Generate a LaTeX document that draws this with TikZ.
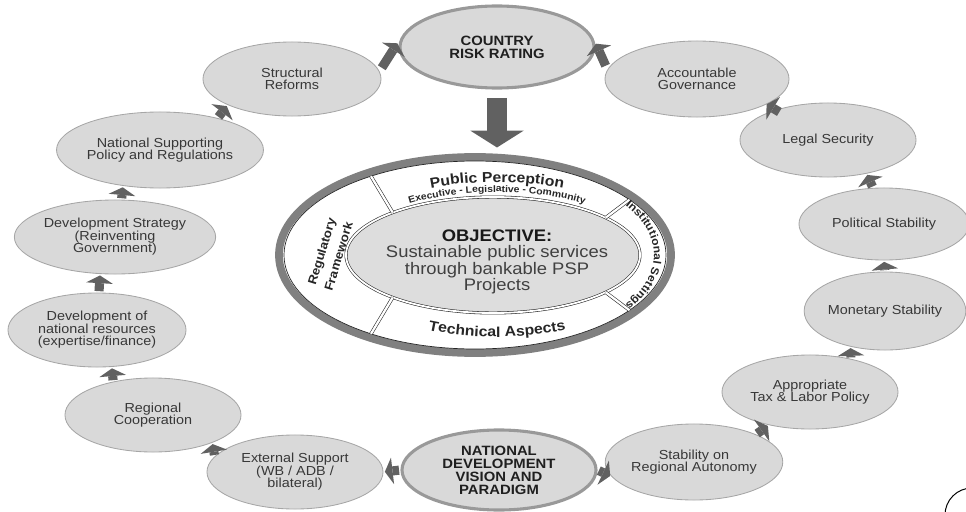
\documentclass[tikz,border=0pt]{standalone}
\usepackage{fontspec}
\setmainfont{Liberation Sans}[FakeStretch=1.1]
\usetikzlibrary{shapes.geometric,arrows.meta,positioning,decorations.text}

% fonts for the labels in the white band
\newcommand{\bandbig}{\color{black!85}\bfseries\fontsize{10.2}{12}\selectfont}
\newcommand{\bandsmall}{\color{black!85}\bfseries\fontsize{6.7}{7}\selectfont}
\newcommand{\bandside}{\color{black!85}\bfseries\fontsize{8.6}{12.5}\selectfont}
\newcommand{\bandright}{\color{black!85}\bfseries\fontsize{7.8}{9}\selectfont}

\tikzset{
  stage/.style={ellipse, draw=gray!70, fill=gray!30, line width=0.6pt, inner sep=0pt,
    minimum width=4.4cm, minimum height=1.85cm, align=center, text=black!78,
    font=\fontsize{9.3}{8.9}\selectfont},
  keystage/.style={stage, draw=gray!80, line width=2.2pt, minimum width=4.85cm,
    minimum height=2.05cm, text=black!88, font=\bfseries\fontsize{9.6}{9.3}\selectfont},
  core/.style={ellipse, draw=black!50, line width=5.5pt, fill=white, inner sep=0pt,
    minimum width=9.8cm, minimum height=4.9cm},
  rim/.style={draw=black!85, line width=0.5pt},
  hub/.style={draw=black!85, line width=0.4pt, double=white, double distance=1.3pt, fill=gray!27},
  seam/.style={draw=black!85, line width=0.4pt, double=white, double distance=1.6pt},
  flow/.style={draw=black!62, line width=6.5pt,
    -{Triangle[length=5.5pt, width=19pt, line width=0pt]}, shorten <=1pt, shorten >=1pt},
  bigflow/.style={draw=black!62, line width=14pt,
    -{Triangle[length=12pt, width=38pt, line width=0pt]}}
}

\begin{document}
\begin{tikzpicture}[x=0.025cm, y=-0.025cm]
\useasboundingbox (0,0) rectangle (966,512);

% the two key ellipses
\node[keystage] (rating) at (497,47) {COUNTRY\\RISK RATING};
\node[keystage, minimum height=2cm] (vision) at (499,470) {NATIONAL\\DEVELOPMENT\\VISION AND\\PARADIGM};

% right half of the cycle
\node[stage, minimum width=4.6cm, minimum height=1.9cm] (accgov) at (697,79) {Accountable\\Governance};
\node[stage] (legal) at (828,140) {Legal Security};
\node[stage, minimum width=4.25cm, minimum height=1.8cm] (political) at (884,224) {Political Stability};
\node[stage, minimum width=3.9cm, minimum height=1.95cm] (monetary) at (885,311) {Monetary Stability};
\node[stage] (taxlabor) at (810,392) {Appropriate\\Tax \& Labor Policy};
\node[stage, minimum width=4.3cm, minimum height=1.9cm] (autonomy) at (694,462) {Stability on\\Regional Autonomy};

% left half of the cycle
\node[stage] (external) at (295,472) {External Support\\(WB / ADB /\\bilateral)};
\node[stage] (regional) at (153,415) {Regional\\Cooperation};
\node[stage, minimum width=4.45cm] (resources) at (97,330) {Development of\\national resources\\(expertise/finance)};
\node[stage, minimum width=4.45cm] (strategy) at (115,237) {Development Strategy\\(Reinventing\\Government)};
\node[stage, minimum height=1.9cm] (supporting) at (160,150) {National Supporting\\Policy and Regulations};
\node[stage, minimum width=4.45cm] (reforms) at (292,79) {Structural\\Reforms};

% centre: objective with its four fields
\node[core] (core) at (475,255) {};
\begin{scope}[shift={(core.center)}, yscale=-1]
  \draw[rim] (0,0) ellipse [x radius=191, y radius=94];
  \draw[hub] (18,0) ellipse [x radius=147, y radius=58];
  \foreach \a/\b in {133/123, 40/36, -40/-36, 227/237}
    \draw[seam] ({18+147*cos(\a)},{58*sin(\a)}) -- ({191*cos(\b)},{94*sin(\b)});
  \path[decorate, decoration={text along path, text align=center,
      text={|\bandbig|Public Perception}}]
    (22,0) ++(125:165 and 73) arc [start angle=125, end angle=55, x radius=165, y radius=73];
  \path[decorate, decoration={text along path, text align=center,
      text={|\bandsmall|Executive - Legislative - Community}}]
    (22,0) ++(145:150 and 63) arc [start angle=145, end angle=35, x radius=150, y radius=63];
  \path[decorate, decoration={text along path, text align=center,
      text={|\bandbig|Technical Aspects}}]
    (22,0) ++(235:170 and 82) arc [start angle=235, end angle=305, x radius=170, y radius=82];
  \path[decorate, decoration={text along path, text align=center,
      text={|\bandright|Institutional Settings}}]
    (0,0) ++(40:179 and 92) arc [start angle=40, end angle=-40, x radius=179, y radius=92];
\end{scope}
\node[rotate=73, align=center, font=\bandside] (regulatory) at (330,254) {Regulatory\\Framework};
\node[align=center, text=black!75, font=\fontsize{11.9}{11.7}\selectfont] (objective) at (497,262)
  {{\color{black!90}\bfseries OBJECTIVE:}\\Sustainable public services\\through bankable PSP\\Projects};

% arrows round the cycle
\draw[bigflow, shorten <=6pt, shorten >=4pt] (rating.south) -- (rating.south |- core.north);
\draw[flow] (vision.west) -- (external.east);
\draw[flow] (external.169) -- (regional.-25);
\draw[flow] (regional.140) -- (resources.-68);
\draw[flow] (resources.87) -- (strategy.-112);
\draw[flow] (strategy.80) -- (supporting.-136);
\draw[flow] (supporting.29) -- (reforms.202);
\draw[flow, shorten <=3pt, shorten >=4pt] (reforms.5) -- (rating.175);
\draw[flow] (vision.east) -- (autonomy.190);
\draw[flow] (autonomy.24) -- (taxlabor.219);
\draw[flow] (taxlabor.39) -- (monetary.226);
\draw[flow] (monetary.north) -- (political.south);
\draw[flow] (political.107) -- (legal.-41);
\draw[flow, shorten <=-3pt, shorten >=0pt] (legal.150) -- (accgov.-20);
\draw[flow, shorten <=3pt, shorten >=4pt] (accgov.174) -- (rating.5);

% cut-off circle in the corner
\draw[line width=0.7pt] (972,515) circle [radius=27];
\end{tikzpicture}
\end{document}
